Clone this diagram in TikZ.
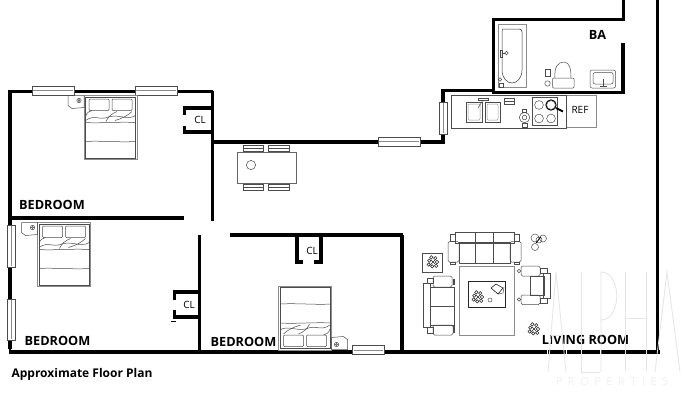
\documentclass[tikz,border=0pt]{standalone}
\usepackage{fontspec}
\setmainfont{Open Sans}
\usetikzlibrary{calc}
\tikzset{
  wall/.style={line width=3.6pt,black,line cap=butt,line join=miter},
  thinwall/.style={line width=2.8pt,black,line cap=butt,line join=miter},
  furn/.style={line width=0.5pt,black!70},
  furnlight/.style={line width=0.8pt,black!45},
  win/.style={draw=black!70,line width=0.6pt,fill=white},
  lab/.style={font=\bfseries\fontsize{12.7}{14}\selectfont,inner sep=0pt,black},
  labsmall/.style={font=\bfseries\fontsize{12}{14}\selectfont,inner sep=0pt,black},
  small/.style={font=\fontsize{10}{11}\selectfont,inner sep=0pt,black}
}
\newcommand{\hwin}[3]{% x1 x2 yc
  \draw[win] (#1,#3-4.5) rectangle (#2,#3+4.5);
  \draw[line width=1pt,black!45] (#1+1,#3) -- (#2-1,#3);}
\newcommand{\vwin}[3]{% xc y1 y2
  \draw[win] (#1-4,#2) rectangle (#1+4,#3);
  \draw[line width=1pt,black!45] (#1,#2+1) -- (#1,#3-1);}
\newcommand{\bedpic}{%
  \draw[furnlight] (0,0) rectangle (53,64);
  \draw[furn] (1.5,1.5) rectangle (51.5,62.5);
  \draw[furn,rounded corners=1pt] (5,3.5) rectangle (25,15);
  \draw[furn,rounded corners=1pt] (28,3.5) rectangle (48,15);
  \draw[furn] (1.5,21) .. controls (3,17) and (5,15.5) .. (8,15);
  \draw[furn] (1.5,25) .. controls (12,18) and (14,26) .. (26,21) .. controls (36,19) and (44,25) .. (51.5,20);
  \draw[furn] (1.5,27) .. controls (15,28) and (35,26) .. (51.5,27);
  \draw[furn] (22,26) .. controls (24,21) and (28,18) .. (33,16);
  \draw[furn] (31,25) .. controls (38,23) and (44,20) .. (48,16);
  \draw[furn] (1.5,46) .. controls (15,45) and (35,47) .. (51.5,46);
}
\newcommand{\standpic}{%
  \draw[furn] (0,0) -- (16,0) -- (16,12) -- (4,13) -- (0,10) -- cycle;
  \draw[furn] (11,5) circle (2.2);
  \draw[furn] (11,5) circle (1);
}
\newcommand{\plantpic}{%
  \foreach \a/\r in {0/4,50/5,100/4.4,150/5,200/4,250/5,300/4.5}{
    \draw[line width=0.55pt,black!85] (\a:\r) circle (1.7);}
  \draw[line width=0.5pt,black!85] (-2,-2) -- (2,2) (-2,2) -- (2,-2);
}
\begin{document}
\begin{tikzpicture}[x=1pt,y=-1pt]
\useasboundingbox (0,0) rectangle (690,400);
\fill[white] (0,0) rectangle (690,400);

% ---- walls
\draw[wall] (10,349) -- (10,91.5) -- (213,91.5);
\draw[thinwall] (212.5,91) -- (212.5,221);
\draw[wall] (184.5,115) -- (184.5,108) -- (212,108);
\draw[wall] (184.5,126) -- (184.5,132) -- (212,132);
\draw[wall] (213,141.7) -- (443,141.7) -- (443,90.5) -- (493,90.5);
\draw[wall] (493.5,92) -- (493.5,19.5) -- (623.5,19.5) -- (623.5,0);
\draw[wall] (623,43) -- (623,93.5);
\draw[wall] (492,92.5) -- (624,92.5);
\draw[wall] (657.5,0) -- (657.5,352);
\draw[wall] (9,218) -- (184,218);
\draw[wall] (8.5,352) -- (660,352);
\draw[thinwall] (10,349) -- (10,352);
\draw[wall] (199.5,235) -- (199.5,350);
\draw[wall] (174.5,300) -- (174.5,292) -- (200,292);
\draw[wall] (174.5,310) -- (174.5,317) -- (200,317);
\draw[line width=0.8pt] (171,321) -- (176,321);
\draw[wall] (230,235) -- (403,235);
\draw[wall] (402,235) -- (402,351);
\draw[wall] (297,235) -- (297,262) -- (303,262);
\draw[wall] (321,235) -- (321,262) -- (314,262);

% ---- windows
\hwin{32}{74}{90.5}
\hwin{135}{177}{90.5}
\hwin{378}{420}{141.5}
\hwin{352.5}{384}{350}
\vwin{11}{225}{267}
\vwin{11}{299}{340}
\vwin{443}{102}{134}

% ---- beds
\begin{scope}[shift={(84,95.5)}] \bedpic \end{scope}
\begin{scope}[shift={(37.5,222.5)}] \bedpic \end{scope}
\begin{scope}[shift={(331.5,350)},rotate=180] \bedpic \end{scope}
\begin{scope}[shift={(68,95.5)}] \standpic \end{scope}
\begin{scope}[shift={(21.5,222.5)}] \standpic \end{scope}
\begin{scope}[shift={(347.5,349.5)},rotate=180] \standpic \end{scope}

% ---- dining table
\draw[furn,black!60,line width=0.8pt] (237.5,152) rectangle (296,183);
\draw[furn] (251,165) circle (4.6);
\foreach \xa/\xb in {243.5/263,268.5/289.5}{
  \draw[furn] (\xa,145.5) rectangle (\xb,151);
  \draw[furn] (\xa,148) -- (\xb,148);
  \draw[furn] (\xa,184) rectangle (\xb,190.5);
  \draw[furn] (\xa,187) -- (\xb,187);
}

% ---- kitchen
\draw[furnlight] (566,95) rectangle (596,127);
\draw[furn] (451.5,95) rectangle (566.5,128);
\draw[furn] (466,102) rectangle (482,122);
\draw[furn] (485,102) rectangle (500,122);
\draw[furn,black!40,rounded corners=1pt] (468,104) rectangle (480,120);
\draw[furn,black!40,rounded corners=1pt] (487,104) rectangle (498,120);
\draw[furn] (478,98) rectangle (488,100.5);
\draw[furn] (483,100) -- (478,108);
\draw[furn] (504,98) rectangle (514.5,104.5);
\draw[furn] (504,101) -- (514.5,101);
\draw[furn] (532.5,97.5) rectangle (557,125.5);
\foreach \p in {(539,105),(551,105),(539,118.5),(551,118.5)}{ \draw[furn] \p circle (4.4); }
\draw[furn,line width=0.9pt,black] (551,105) circle (5.2);
\draw[line width=1.8pt,black] (556,108) -- (563,111.5);
\draw[furn] (524.5,117.5) circle (5.2);
\draw[furn] (524.5,117.5) circle (2.3);
\draw[furn] (522,109) rectangle (526,112.5);
\draw[furn] (522,123) rectangle (527,127.5);

% ---- bathroom
\draw[furnlight] (498.5,24.5) rectangle (526.5,87);
\draw[furn,black!80] (502,31) .. controls (502,29) and (503,29) .. (505,29) -- (519,29) .. controls (521,29) and (522,30) .. (522,32) -- (522,70) .. controls (522,78) and (517,83) .. (512,83) .. controls (507,83) and (502,78) .. (502,70) -- cycle;
\draw[furn] (500,50) rectangle (502.5,57);
\draw[furn] (506.5,53) circle (1.7);
\draw[furn] (502.5,53) -- (505,53);
\draw[furn] (500,79.5) circle (1.8);
\draw[furn] (499,83) rectangle (503,87);
\draw[furn] (545,69) rectangle (550.5,76.5);
\draw[furn] (547.5,83.5) circle (2.7);
\draw[furn] (555,78) .. controls (554,67) and (558,62) .. (564,62) .. controls (570,62) and (571,70) .. (571,78);
\draw[furn,rounded corners=1pt] (552.5,78) rectangle (574,88);
\draw[furn,rounded corners=2pt] (590,70) rectangle (615.5,88);
\draw[furn,rounded corners=2pt] (593,72.5) rectangle (613,84);
\draw[furn] (603,79) -- (603,87);
\draw[furn] (600,86.5) -- (607,86.5);

% ---- living room
\draw[furn] (455,232) rectangle (514,243);
\draw[furn] (475,232) -- (475,263) (493,232) -- (493,263);
\draw[furn] (459,242.5) rectangle (510,263);
\draw[furn,rounded corners=1.5pt] (448,241.5) rectangle (459,262);
\draw[furn,rounded corners=1.5pt] (510,241.5) rectangle (521,262);
\draw[furn] (450,234.5) rectangle (455,241.5) (514,234.5) rectangle (519,241.5);
\draw[furn] (450,262) rectangle (455,264) (514,262) rectangle (519,264);
\draw[furnlight] (459.5,266) rectangle (514,335);
\draw[furn,black!85] (468,281) rectangle (505,307);
\begin{scope}[shift={(478,297)}] \plantpic \end{scope}
\draw[furn] (490,300) circle (2);
\draw[furn,black] (491,288) -- (496,284) -- (503,288) -- (498,294) -- cycle;
\draw[furn] (504,287) -- (503,293) -- (498,294);
\draw[furn] (423,283) rectangle (430,327);
\draw[furn] (430,287) rectangle (454,325);
\draw[furn] (430,306) -- (454,306);
\draw[furn,rounded corners=1.5pt] (433,276) rectangle (452,287);
\draw[furn,rounded corners=1.5pt] (433,325) rectangle (453,335);
\draw[furn] (427,278) rectangle (433,283) (427,327) rectangle (433,333);
\draw[furn] (453,279) rectangle (454.5,284) (453,326) rectangle (454.5,332);
\draw[furn] (530,276) rectangle (544,295);
\draw[furn,rounded corners=1.5pt] (521,266) rectangle (540,276);
\draw[furn,rounded corners=1.5pt] (521,295) rectangle (540,304.5);
\draw[furn] (543,273) rectangle (550.5,298.5);
\draw[furn] (540,268.5) rectangle (547,273) (540,298.5) rectangle (547,303);
\draw[furn] (519,271) circle (1.8) (519,299.5) circle (1.8);
\draw[furn] (422,253) rectangle (442,272);
\begin{scope}[shift={(433,262)}] \plantpic \end{scope}
\begin{scope}[shift={(534,329)}] \plantpic \end{scope}
\draw[furn] (535,238) circle (4) (543,238.5) circle (3.5) (535,247) circle (3.5) (539,240) circle (3);
\draw[line width=0.6pt,black] (536,243) -- (541,237);

% ---- labels
\node[lab] (l1) at (52,205) {BEDROOM};
\node[lab] (l2) at (57.5,340.5) {BEDROOM};
\node[lab] (l3) at (243.5,342) {BEDROOM};
\node[lab] (l4) at (585.5,339.5) {LIVING ROOM};
\node[lab] (l5) at (597.5,34.5) {BA};
\node[labsmall] (l6) at (82,374) {Approximate Floor Plan};
\node[small] (c1) at (200,120) {CL};
\node[small] (c2) at (189,305) {CL};
\node[small] (c3) at (312,251) {CL};
\node[small] (r1) at (580,110) {REF};

% ---- watermark
\node[inner sep=0pt,text=black!6,font=\fontsize{11}{13}\selectfont] (wm1) at (612,382) {P\hspace{5.5pt}R\hspace{5.5pt}O\hspace{5.5pt}P\hspace{5.5pt}E\hspace{5.5pt}R\hspace{5.5pt}T\hspace{5.5pt}I\hspace{5.5pt}E\hspace{5.5pt}S};
\draw[white,line width=1pt] (547,349) -- (547,355) (566,349) -- (566,355) (581,349) -- (581,355) (600,349) -- (600,355) (625,349) -- (625,355) (646,349) -- (646,355);
\begin{scope}[black!10,line width=0.8pt]
\draw (548,372) -- (556,272) -- (566,372);
\draw (551,335) -- (562,335);
\draw (581,272) -- (581,372) -- (600,372);
\draw (601,372) -- (601,272) .. controls (622,272) and (622,320) .. (601,320);
\draw (625,272) -- (625,372) (646,272) -- (646,372) (625,318) -- (646,318);
\draw (655,372) -- (667,272) -- (680,372);
\end{scope}
\end{tikzpicture}
\end{document}
